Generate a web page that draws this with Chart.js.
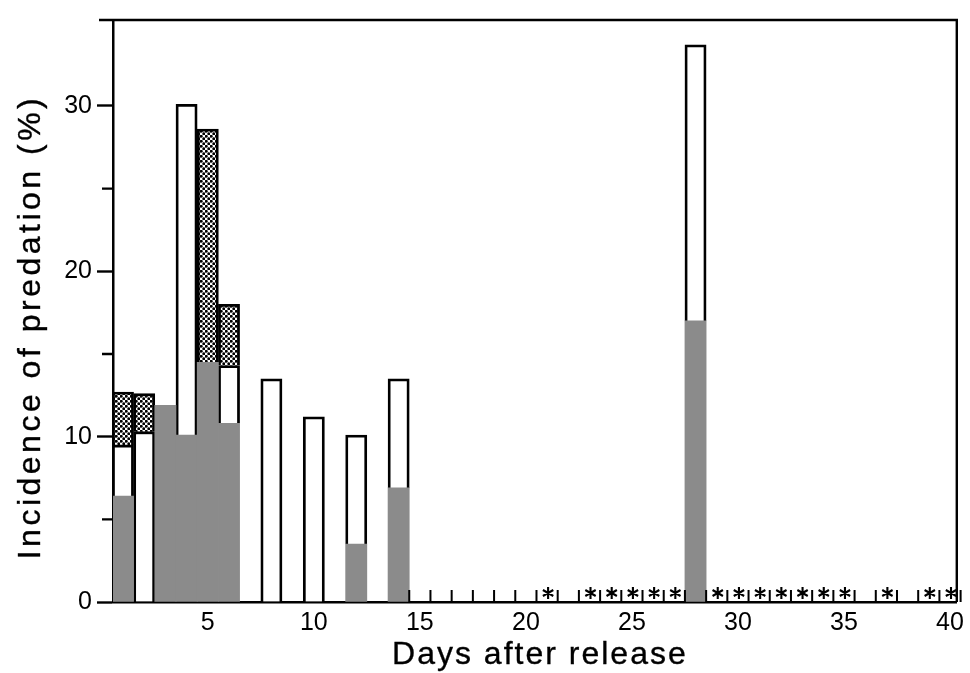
<!DOCTYPE html>
<html>
<head>
<meta charset="utf-8">
<script src="https://cdn.jsdelivr.net/npm/chart.js@4.4.1/dist/chart.umd.min.js"></script>
<style>
  html, body { margin: 0; padding: 0; background: #fff; }
  #wrap { width: 970px; height: 673px; position: relative; }
</style>
</head>
<body>
<div id="wrap"><canvas id="predation"></canvas></div>
<script>
// days on which predation was recorded
const days = [1, 2, 3, 4, 5, 6, 8, 10, 12, 14, 28];
// stacked segment heights (%), bottom to top
const grayPart = [6.4, null, 11.9, 10.1, 14.5, 10.8, null, null, 3.5, 6.9, 17.0];
const whitePart = [3.1, 10.3, null, 20.0, null, 3.5, 13.5, 11.2, 6.6, 6.6, 16.7];
const dottedPart = [3.2, 2.3, null, null, 14.1, 3.7, null, null, null, null, null];

// days sampled with zero predation, and the ones carrying an asterisk
const zeroDays = [15, 16, 17, 18, 19, 20, 21, 22, 23, 24, 25, 26, 27,
                  29, 30, 31, 32, 33, 34, 35, 36, 37, 38, 39, 40];
const starDays = [21, 23, 24, 25, 26, 27, 29, 30, 31, 32, 33, 34, 35, 37, 39, 40];

const xTicks = [5, 10, 15, 20, 25, 30, 35, 40];
const yTicks = [0, 10, 20, 30];
const yMinorTicks = [5, 15, 25];

const xTitle = 'Days after release';
const yTitle = 'Incidence of predation (%)';

function dotPattern() {
    const c = document.createElement('canvas');
    c.width = 5;
    c.height = 5;
    const g = c.getContext('2d');
    g.fillStyle = '#fff';
    g.fillRect(0, 0, 5, 5);
    g.fillStyle = '#000';
    [[1.25, 1.25], [3.75, 3.75]].forEach(p => {
        g.beginPath();
        g.arc(p[0], p[1], 1.45, 0, Math.PI * 2);
        g.fill();
    });
    return g.createPattern(c, 'repeat');
}

const extras = {
    id: 'extras',
    afterDatasetsDraw(chart) {
        const { ctx, chartArea: a, scales: { x, y } } = chart;
        ctx.save();
        ctx.strokeStyle = '#000';
        ctx.lineWidth = 2.4;
        ctx.beginPath();
        ctx.moveTo(a.left - 14, a.top);
        ctx.lineTo(a.right, a.top);
        ctx.lineTo(a.right, a.bottom);
        yMinorTicks.forEach(v => {
            const py = y.getPixelForValue(v);
            ctx.moveTo(a.left - 11, py);
            ctx.lineTo(a.left, py);
        });
        ctx.stroke();

        ctx.lineWidth = 2;
        ctx.beginPath();
        zeroDays.forEach(d => {
            [d - 0.5, d + 0.5].forEach(e => {
                const px = x.getPixelForValue(e);
                ctx.moveTo(px, a.bottom);
                ctx.lineTo(px, a.bottom - 12);
            });
        });
        ctx.stroke();

        ctx.lineWidth = 2.1;
        ctx.beginPath();
        starDays.forEach(d => {
            const cx = x.getPixelForValue(d) + 1;
            const cy = a.bottom - 9;
            for (let k = 0; k < 3; k++) {
                const ang = Math.PI / 2 + k * Math.PI / 3;
                ctx.moveTo(cx - 6 * Math.cos(ang), cy - 6 * Math.sin(ang));
                ctx.lineTo(cx + 6 * Math.cos(ang), cy + 6 * Math.sin(ang));
            }
        });
        ctx.stroke();
        ctx.restore();
    },
    afterDraw(chart) {
        const { ctx, chartArea: a } = chart;
        ctx.save();
        ctx.fillStyle = '#000';
        ctx.strokeStyle = '#000';
        ctx.lineWidth = 0.35;
        ctx.font = '32px "Liberation Sans", Arial, sans-serif';
        ctx.textAlign = 'center';
        ctx.textBaseline = 'middle';
        ctx.letterSpacing = '2px';
        const xx = (a.left + a.right) / 2 + 5;
        ctx.fillText(xTitle, xx, a.bottom + 53);
        ctx.strokeText(xTitle, xx, a.bottom + 53);
        ctx.letterSpacing = '3.5px';
        ctx.translate(31, (a.top + a.bottom) / 2 + 16);
        ctx.rotate(-Math.PI / 2);
        ctx.fillText(yTitle, 0, 0);
        ctx.strokeText(yTitle, 0, 0);
        ctx.restore();
    }
};

function createChart() {
    const el = document.getElementById('predation');
    const tickFont = { family: '"Liberation Sans", Arial, sans-serif', size: 25 };

    const data = {
        datasets: [{
            label: 'gray',
            data: days.map((d, i) => ({ x: d, y: grayPart[i] })),
            backgroundColor: '#8b8b8b',
            borderWidth: 0
        }, {
            label: 'white',
            data: days.map((d, i) => ({ x: d, y: whitePart[i] })),
            backgroundColor: '#ffffff',
            borderColor: '#000',
            borderWidth: 2.8
        }, {
            label: 'dotted',
            data: days.map((d, i) => ({ x: d, y: dottedPart[i] })),
            backgroundColor: dotPattern(),
            borderColor: '#000',
            borderWidth: 2.8
        }]
    };

    const config = {
        type: 'bar',
        data: data,
        options: {
            responsive: true,
            maintainAspectRatio: false,
            animation: false,
            layout: { padding: { top: 15, right: 11, left: 0, bottom: 0 } },
            categoryPercentage: 1,
            barPercentage: 1,
            plugins: { legend: { display: false }, tooltip: { enabled: false } },
            scales: {
                x: {
                    type: 'linear',
                    stacked: true,
                    offset: false,
                    min: 0.53,
                    max: 40.32,
                    afterBuildTicks: s => { s.ticks = xTicks.map(v => ({ value: v })); },
                    afterFit: s => { s.height = 71; },
                    grid: { display: false, drawTicks: false, offset: false },
                    border: { display: true, color: '#000', width: 2.5 },
                    ticks: { color: '#000', font: tickFont, padding: 6, maxRotation: 0 }
                },
                y: {
                    stacked: true,
                    min: 0,
                    max: 35.2,
                    afterBuildTicks: s => { s.ticks = yTicks.map(v => ({ value: v })); },
                    afterFit: s => { s.width = 113; },
                    grid: { display: true, drawOnChartArea: false, drawTicks: true, tickLength: 16, tickWidth: 2.4, tickColor: '#000' },
                    border: { display: true, color: '#000', width: 2.5 },
                    ticks: { color: '#000', font: tickFont, padding: 5 }
                }
            }
        },
        plugins: [extras]
    };

    return new Chart(el, config);
}

createChart();
</script>
</body>
</html>
